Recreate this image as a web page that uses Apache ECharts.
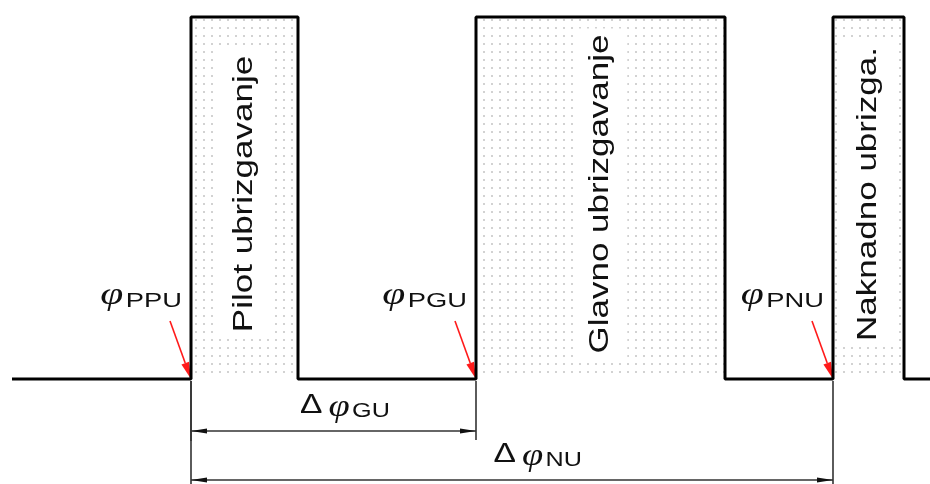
<!DOCTYPE html>
<html><head><meta charset="utf-8">
<script src="https://cdn.jsdelivr.net/npm/echarts@6/dist/echarts.min.js"></script>
<style>html,body{margin:0;padding:0;background:#fff}#c{width:930px;height:484px}</style>
</head><body><div id="c"></div>
<script>
// ---- data (positions along the angle axis, levels of the injection signal) ----
const pulseStart = [191, 476, 833];
const pulseEnd = [298, 725, 904];
const pulseNames = ['Pilot ubrizgavanje', 'Glavno ubrizgavanje', 'Naknadno ubrizga.'];
const startTags = ['PPU', 'PGU', 'PNU'];
const traceRange = [12, 930];
const levels = [0, 1];
const dimFrom = [0, 0];
const dimTo = [1, 2];
const dimTags = ['GU', 'NU'];

// ---- layout ----
const W = 930, H = 484, TOP_PX = 17, BASE_PX = 379;
const unit = (BASE_PX - TOP_PX) / (levels[1] - levels[0]);
const yMax = levels[1] + TOP_PX / unit;
const yMin = levels[0] - (H - BASE_PX) / unit;
const SANS = '"Liberation Sans", Arial, sans-serif';
const SERIF = '"Liberation Serif", serif';

const trace = [[traceRange[0], levels[0]]];
pulseStart.forEach((s, i) => {
  trace.push([s, levels[0]], [s, levels[1]], [pulseEnd[i], levels[1]], [pulseEnd[i], levels[0]]);
});
trace.push([traceRange[1], levels[0]]);

const pat = document.createElement('canvas');
pat.width = 8; pat.height = 8;
const pc = pat.getContext('2d');
pc.fillStyle = '#d2d2d2';
pc.fillRect(3, 3, 2, 2);
const pattern = { image: pat, repeat: 'repeat' };

const mctx = document.createElement('canvas').getContext('2d');
function tw(text, size, family, style) {
  mctx.font = (style || 'normal') + ' ' + size + 'px ' + family;
  return mctx.measureText(text).width;
}

function symbolLabel(parts, ax, ay, anchor, sx) {
  let x = 0; const kids = [];
  parts.forEach(p => {
    kids.push({ type: 'text', x: x, y: p.dy, style: {
      text: p.text, fontSize: p.size, fontFamily: p.family, fontStyle: p.style || 'normal',
      fill: '#111', align: 'left', verticalAlign: 'middle' } });
    x += tw(p.text, p.size, p.family, p.style) + (p.gap || 0);
  });
  const gx = anchor === 'right' ? ax - x * sx : ax - x * sx / 2;
  return { type: 'group', x: gx, y: ay, scaleX: sx, children: kids };
}

function arrowHead(tail, tip, len, half) {
  const dx = tip[0] - tail[0], dy = tip[1] - tail[1];
  const d = Math.hypot(dx, dy), ux = dx / d, uy = dy / d;
  const bx = tip[0] - ux * len, by = tip[1] - uy * len;
  return { base: [bx, by], pts: [tip, [bx - uy * half, by + ux * half], [bx + uy * half, by - ux * half]] };
}

const chart = echarts.init(document.getElementById('c'), null, { renderer: 'canvas' });
chart.setOption({
  animation: false,
  grid: { left: 0, right: 0, top: 0, bottom: 0 },
  xAxis: { type: 'value', min: 0, max: W, show: false },
  yAxis: { type: 'value', min: yMin, max: yMax, show: false },
  series: [
    {
      type: 'custom', z: 1, silent: true,
      data: pulseStart.map((s, i) => [s, pulseEnd[i]]),
      encode: { x: [0, 1] },
      renderItem: (params, api) => {
        const i = params.dataIndex;
        const a = api.coord([api.value(0), levels[0]]);
        const b = api.coord([api.value(1), levels[1]]);
        const cx = (a[0] + b[0]) / 2, cy = (a[1] + b[1]) / 2 - 4;
        const tail = [a[0] - 21, a[1] - 58];
        const head = arrowHead(tail, a, 17, 4);
        return { type: 'group', children: [
          { type: 'rect', shape: { x: a[0], y: b[1], width: b[0] - a[0], height: a[1] - b[1] }, style: { fill: pattern } },
          { type: 'text', x: cx, y: cy, rotation: Math.PI / 2, scaleY: 0.8, style: {
            text: pulseNames[i], fontSize: 35, fontFamily: SANS, fill: '#111',
            align: 'center', verticalAlign: 'middle', backgroundColor: '#fff', padding: [16, 6] } },
          { type: 'line', shape: { x1: tail[0], y1: tail[1], x2: head.base[0], y2: head.base[1] }, style: { stroke: '#ff1a1a', lineWidth: 1.6 } },
          { type: 'polygon', shape: { points: head.pts }, style: { fill: '#ff1a1a' } },
          symbolLabel([
            { text: '\u03C6', size: 32, family: SERIF, style: 'italic', dy: -4, gap: 2 },
            { text: startTags[i], size: 21, family: SANS, dy: 1 }
          ], a[0] - 9, a[1] - 79, 'right', 1.3)
        ] };
      }
    },
    {
      type: 'line', z: 3, silent: true, data: trace, symbol: 'none',
      lineStyle: { color: '#000', width: 3 }
    },
    {
      type: 'custom', z: 2, silent: true,
      data: dimFrom.map((f, k) => [pulseStart[f], pulseStart[dimTo[k]]]),
      encode: { x: [0, 1] },
      renderItem: (params, api) => {
        const k = params.dataIndex;
        const p = api.coord([api.value(0), levels[0]]);
        const q = api.coord([api.value(1), levels[0]]);
        const y = p[1] + 52 + 49 * k;
        const col = '#333';
        const h1 = arrowHead([q[0], y], [p[0], y], 16, 2.6);
        const h2 = arrowHead([p[0], y], [q[0], y], 16, 2.6);
        return { type: 'group', children: [
          { type: 'line', shape: { x1: p[0], y1: p[1] + 2, x2: p[0], y2: y + 10 }, style: { stroke: col, lineWidth: 1.6 } },
          { type: 'line', shape: { x1: q[0], y1: q[1] + 2, x2: q[0], y2: y + 9 }, style: { stroke: col, lineWidth: 1.6 } },
          { type: 'line', shape: { x1: p[0], y1: y, x2: q[0], y2: y }, style: { stroke: col, lineWidth: 1.6 } },
          { type: 'polygon', shape: { points: h1.pts }, style: { fill: '#111' } },
          { type: 'polygon', shape: { points: h2.pts }, style: { fill: '#111' } },
          symbolLabel([
            { text: '\u0394', size: 28, family: SANS, dy: -6, gap: 5 },
            { text: '\u03C6', size: 32, family: SERIF, style: 'italic', dy: -3, gap: 2 },
            { text: dimTags[k], size: 21, family: SANS, dy: 0 }
          ], p[0] + 0.54 * (q[0] - p[0]), y - 20, 'center', 1.2)
        ] };
      }
    }
  ]
});
</script></body></html>
